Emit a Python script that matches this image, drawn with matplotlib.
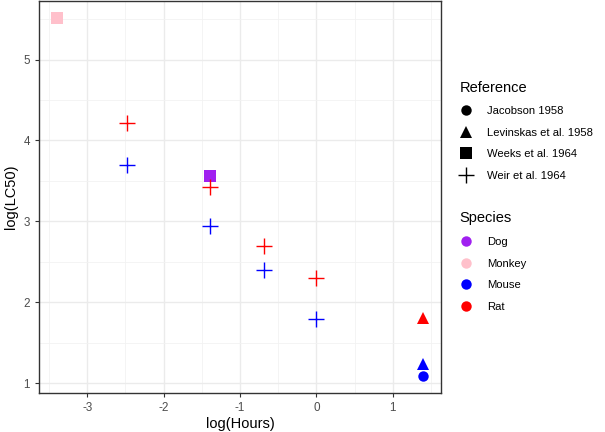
import matplotlib
matplotlib.use('Agg')
import matplotlib.pyplot as plt
from matplotlib.lines import Line2D

plt.rcParams['font.family'] = ['Liberation Sans', 'DejaVu Sans']
plt.rcParams['axes.unicode_minus'] = False

# LC50 by exposure time (both on log scale)
log_hours = [-3.40, -2.48, -2.48, -1.39, -1.39, -1.39, -0.69, -0.69, 0.0, 0.0, 1.39, 1.39, 1.39]
log_lc50 = [5.51, 4.21, 3.69, 3.56, 3.43, 2.94, 2.70, 2.40, 2.30, 1.79, 1.80, 1.23, 1.09]
species = ['Monkey', 'Rat', 'Mouse', 'Dog', 'Rat', 'Mouse', 'Rat', 'Mouse', 'Rat', 'Mouse',
           'Rat', 'Mouse', 'Mouse']
reference = ['Weeks et al. 1964', 'Weir et al. 1964', 'Weir et al. 1964', 'Weeks et al. 1964',
             'Weir et al. 1964', 'Weir et al. 1964', 'Weir et al. 1964', 'Weir et al. 1964',
             'Weir et al. 1964', 'Weir et al. 1964', 'Levinskas et al. 1958',
             'Levinskas et al. 1958', 'Jacobson 1958']

ref_levels = ['Jacobson 1958', 'Levinskas et al. 1958', 'Weeks et al. 1964', 'Weir et al. 1964']
species_levels = ['Dog', 'Monkey', 'Mouse', 'Rat']

shapes = {'Jacobson 1958': 'o', 'Levinskas et al. 1958': '^',
          'Weeks et al. 1964': 's', 'Weir et al. 1964': '+'}
sizes = {'o': 7.5, '^': 8.5, 's': 8.0, '+': 12}
colours = {'Dog': '#A020F0', 'Monkey': '#FFC0CB', 'Mouse': '#0000FF', 'Rat': '#FF0000'}

fig = plt.figure(figsize=(6.05, 4.32), dpi=100)
ax = fig.add_axes([0.0645, 0.0903, 0.6645, 0.9085])

for x, y, sp, ref in zip(log_hours, log_lc50, species, reference):
    m = shapes[ref]
    ax.plot(x, y, marker=m, color=colours[sp], markersize=sizes[m],
            markeredgewidth=1.0 if m == '+' else 0, linestyle='none', zorder=3)

ax.set_xlim(-3.63, 1.63)
ax.set_ylim(0.877, 5.73)
ax.set_xticks([-3, -2, -1, 0, 1])
ax.set_yticks([1, 2, 3, 4, 5])
ax.set_xticks([-3.5, -2.5, -1.5, -0.5, 0.5, 1.5], minor=True)
ax.set_yticks([1.5, 2.5, 3.5, 4.5, 5.5], minor=True)
ax.grid(True, which='major', color='#EBEBEB', linewidth=1.0, zorder=0)
ax.grid(True, which='minor', color='#F2F2F2', linewidth=0.6, zorder=0)
ax.set_axisbelow(True)
ax.tick_params(which='minor', length=0)
ax.tick_params(which='major', length=3, color='#333333', labelsize=8.4, labelcolor='#4D4D4D')
for s in ax.spines.values():
    s.set_color('#333333')
    s.set_linewidth(1.0)
ax.set_xlabel('log(Hours)', fontsize=10.5, labelpad=2)
ax.set_ylabel('log(LC50)', fontsize=10.5, labelpad=4)

ref_handles = [Line2D([], [], marker=shapes[r], color='black', linestyle='none',
                      markersize=sizes[shapes[r]], markeredgewidth=1.0 if shapes[r] == '+' else 0)
               for r in ref_levels]
sp_handles = [Line2D([], [], marker='o', color=colours[s], linestyle='none',
                     markersize=7.5, markeredgewidth=0) for s in species_levels]

fig.legend(ref_handles, ref_levels, title='Reference', loc='upper left',
           bbox_to_anchor=(0.752, 0.824), frameon=False, fontsize=8.1,
           title_fontsize=10.5, alignment='left', labelspacing=1.03,
           handletextpad=1.25, handlelength=1.2, borderaxespad=0)
fig.legend(sp_handles, species_levels, title='Species', loc='upper left',
           bbox_to_anchor=(0.752, 0.521), frameon=False, fontsize=8.1,
           title_fontsize=10.5, alignment='left', labelspacing=1.03,
           handletextpad=1.25, handlelength=1.2, borderaxespad=0)

fig.savefig('out.png', dpi=100)
